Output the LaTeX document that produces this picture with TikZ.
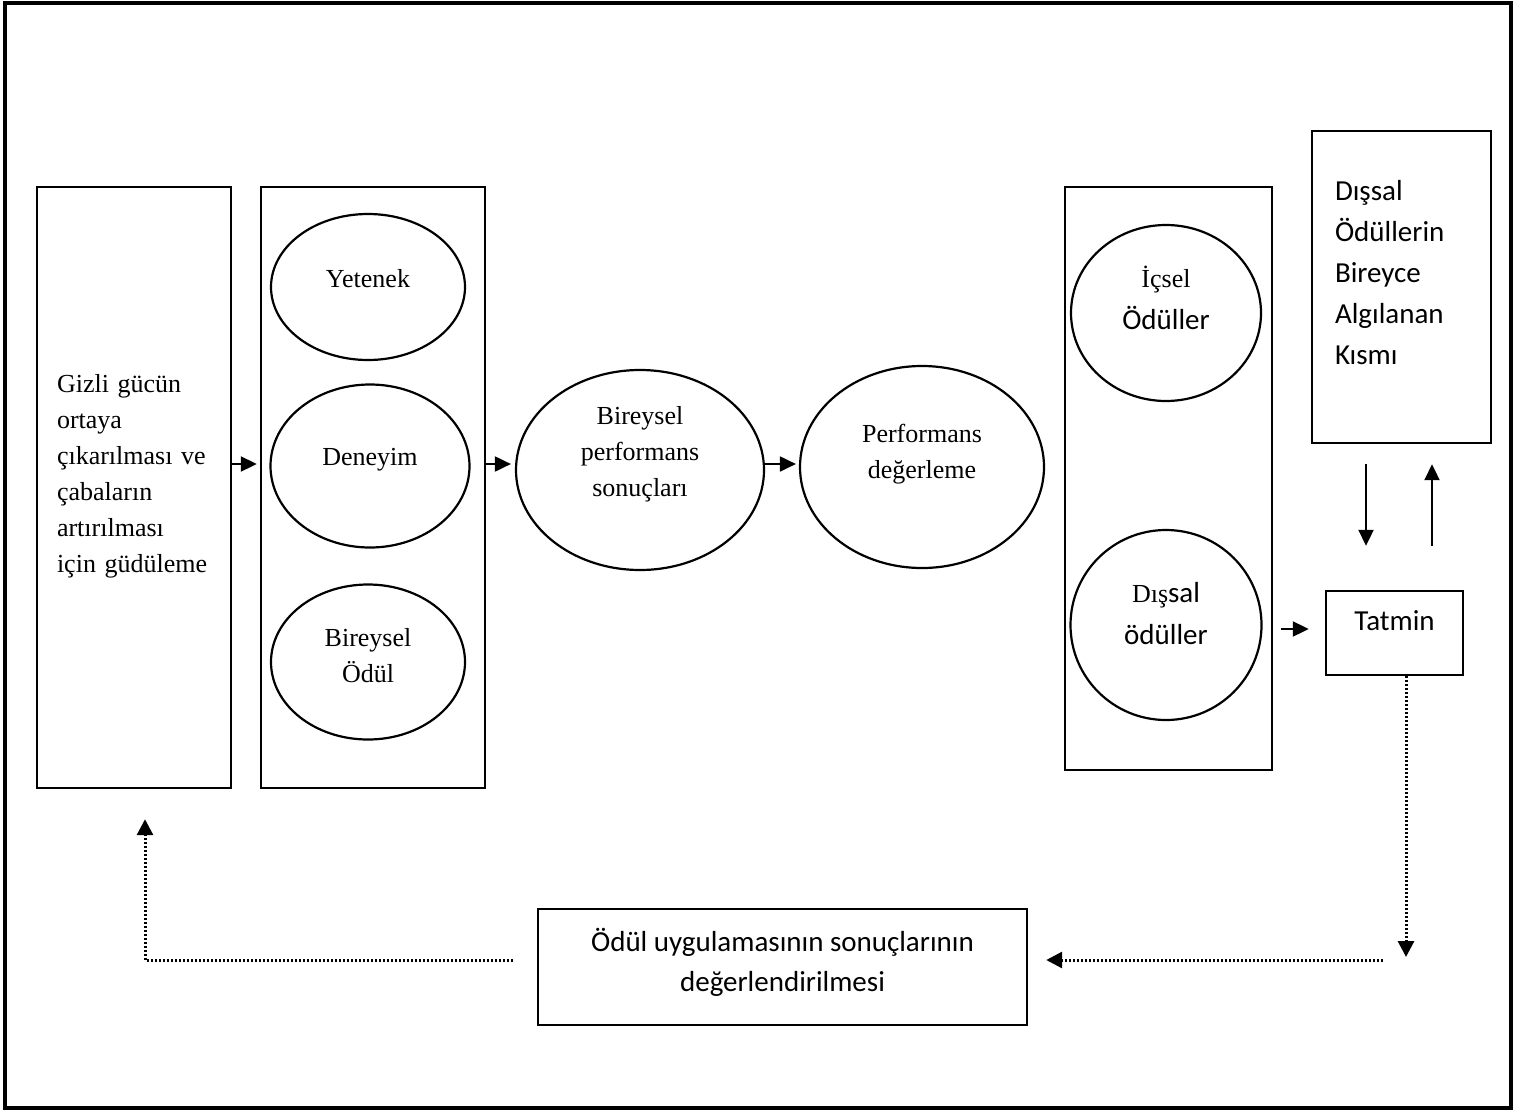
\documentclass[tikz,border=0pt]{standalone}
\usepackage{fontspec}
\setmainfont{Liberation Serif}
\setsansfont{Carlito}
\usetikzlibrary{shapes.geometric,arrows.meta}
\begin{document}
\begin{tikzpicture}[x=0.5pt,y=-0.5pt,
    box/.style={draw,line width=1.2pt,rectangle,inner sep=0pt},
    oval/.style={draw,line width=1.1pt,ellipse,inner sep=0pt,align=center,font=\fontsize{13}{18}\selectfont},
    arr/.style={line width=1pt,-{Triangle[length=8pt,width=7.5pt]}},
    dotarr/.style={line width=1.5pt,dash pattern=on 1pt off 1pt,-{Triangle[length=8pt,width=8pt]}}]
    \useasboundingbox (0,0) rectangle (1519,1113);
    \draw[line width=1.8pt] (5,3) rectangle (1511,1108);
    % left column
    \node[box,minimum width=97pt,minimum height=300.5pt,inner xsep=10pt,text width=77pt,align=left,text depth=104pt,
        font=\fontsize{13}{18}\selectfont] (gizli) at (134,487.5)
        {Gizli gücün\\ortaya\\çıkarılması ve\\çabaların\\artırılması\\için güdüleme};
    \node[box,minimum width=112pt,minimum height=300.5pt] (bireysel) at (373,487.5) {};
    \node[oval,minimum width=97pt,minimum height=73pt,text depth=9pt] (yetenek) at (368,287) {Yetenek};
    \node[oval,minimum width=99.5pt,minimum height=81.5pt,text depth=9pt] (deneyim) at (370,466) {Deneyim};
    \node[oval,minimum width=97pt,minimum height=77.5pt,text depth=7pt] (odul) at (368,662) {Bireysel\\Ödül};
    % middle
    \node[oval,minimum width=124pt,minimum height=100pt,text depth=19pt] (sonuc) at (640,470) {Bireysel\\performans\\sonuçları};
    \node[oval,minimum width=122pt,minimum height=101pt,text depth=16pt] (degerleme) at (922,467) {Performans\\değerleme};
    % rewards
    \node[box,minimum width=103.5pt,minimum height=291.5pt] (oduller) at (1168.5,478.5) {};
    \node[oval,minimum width=95pt,minimum height=88pt,text depth=15pt,font=\fontsize{13}{21}\selectfont] (icsel) at (1166,313)
        {İçsel\\{\sffamily\fontsize{14.5}{21}\selectfont Ödüller}};
    \node[oval,minimum width=95.5pt,minimum height=95pt,text depth=12pt,font=\fontsize{13}{21}\selectfont] (dissal) at (1166,625)
        {Dış{\sffamily\fontsize{14.5}{21}\selectfont sal}\\{\sffamily\fontsize{14.5}{21}\selectfont ödüller}};
    \node[box,minimum width=89.5pt,minimum height=156pt,inner xsep=11.5pt,text width=66.5pt,align=left,text depth=97pt,
        font=\sffamily\fontsize{14.5}{20.5}\selectfont] (algi) at (1401.5,287)
        {Dışsal\\Ödüllerin\\Bireyce\\Algılanan\\Kısmı};
    \node[box,minimum width=68.5pt,minimum height=42pt,text depth=12pt,font=\sffamily\fontsize{14.5}{15}\selectfont] (tatmin) at (1394.5,633) {Tatmin};
    \node[box,minimum width=244.5pt,minimum height=58pt,align=center,text depth=7pt,font=\sffamily\fontsize{14.5}{20}\selectfont] (eval) at (782.5,967)
        {Ödül uygulamasının sonuçlarının\\değerlendirilmesi};
    % arrows
    \coordinate (row) at (0,464);
    \draw[arr,shorten >=1.5pt] (gizli.east |- row) -- (bireysel.west |- row);
    \draw[arr,shorten >=2pt] (bireysel.east |- row) -- (sonuc.west |- row);
    \draw[arr,shorten >=1.5pt] (sonuc.east |- row) -- (degerleme.west |- row);
    \coordinate (t1) at (0,629);
    \draw[arr,shorten <=4pt,shorten >=8pt] (oduller.east |- t1) -- (tatmin.west |- t1);
    \coordinate (dn) at (1366,0);
    \coordinate (up) at (1432,0);
    \draw[arr,shorten <=10pt,shorten >=22pt] (algi.south -| dn) -- (tatmin.north -| dn);
    \draw[arr,shorten <=22pt,shorten >=10pt] (tatmin.north -| up) -- (algi.south -| up);
    % feedback
    \coordinate (sd) at (1406,957);
    \coordinate (sh) at (1383,960);
    \coordinate (lh) at (513,960);
    \coordinate (lc) at (145,960);
    \draw[dotarr] (tatmin.south -| sd) -- (sd);
    \draw[dotarr,shorten >=9pt] (sh) -- (sh -| eval.east);
    \draw[dotarr,shorten >=15pt] (lh) -- (lc) -- (lc |- gizli.south);
\end{tikzpicture}
\end{document}
